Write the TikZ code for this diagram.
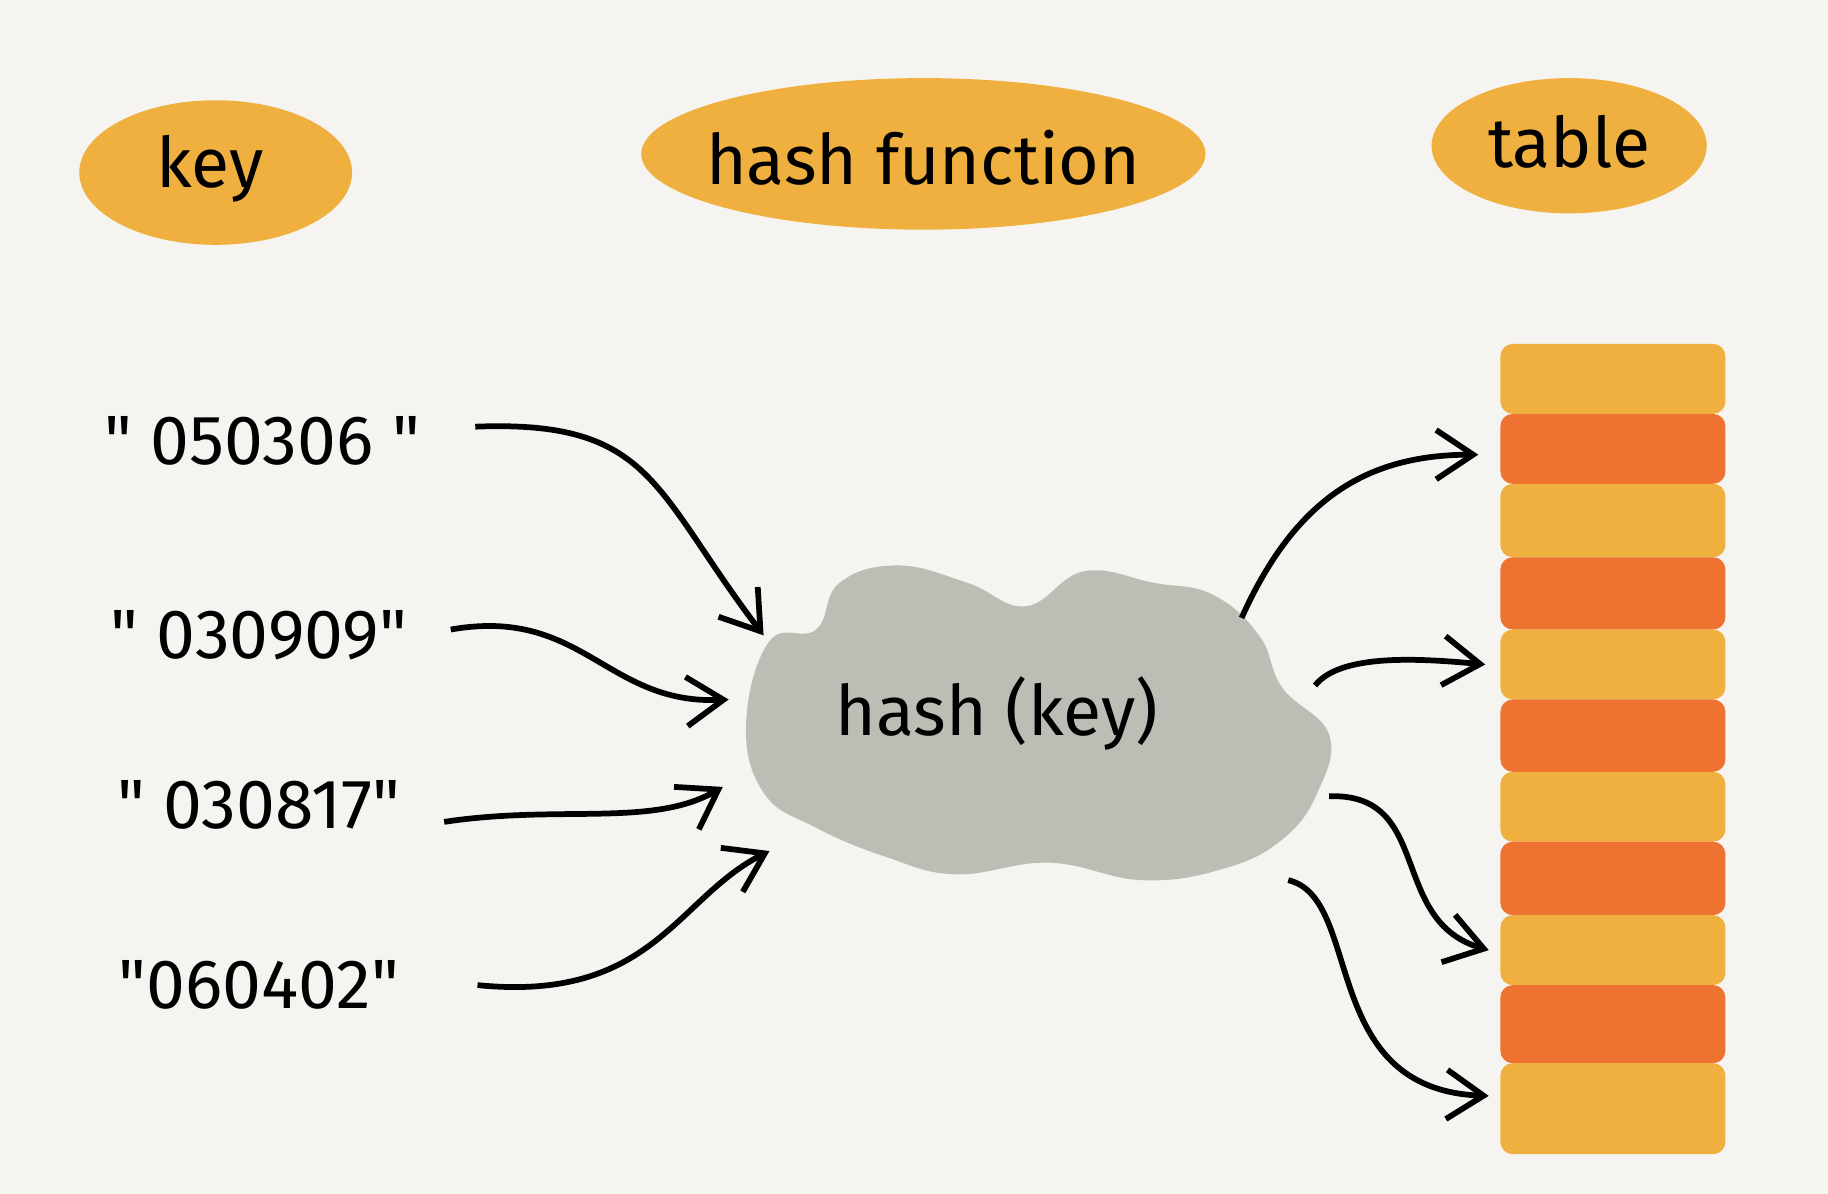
\documentclass[tikz,border=0pt]{standalone}
\usepackage{fontspec}
\setmainfont{Fira Sans}
\begin{document}
\begin{tikzpicture}[x=0.01cm,y=-0.01cm,
  txt/.style={font=\fontsize{17}{20}\selectfont},
  kt/.style={font=\fontsize{17}{20}\selectfont},
  arr/.style={->,line width=1.4pt,>={Straight Barb[length=9pt,width=12pt]}}]
\usetikzlibrary{shapes.geometric,arrows.meta}
\definecolor{bg}{HTML}{F5F4F0}
\definecolor{hdr}{HTML}{EFB03F}
\definecolor{org}{HTML}{EE7230}
\definecolor{cl}{HTML}{BDBCB5}
\fill[bg] (0,0) rectangle (1568,1024);
\useasboundingbox (0,0) rectangle (1568,1024);
% header ellipses
\fill[hdr] (185,148) ellipse [x radius=117,y radius=62];
\fill[hdr] (792,132) ellipse [x radius=242,y radius=65];
\fill[hdr] (1346,125) ellipse [x radius=118,y radius=58];
\node[txt] (hk) at (180,145) {key};
\node[txt] (hf) at (792,135) {hash function};
\node[txt] (ht) at (1346,122) {table};
% table stripes
\foreach \a/\b/\c [count=\i] in {295/355/hdr,355/415/org,415/478/hdr,478/540/org,540/600/hdr,600/662/org,662/722/hdr,722/785/org,785/845/hdr,845/912/org,912/990/hdr}
  \fill[\c,rounded corners=3pt] (1287,\a) rectangle (1480,\b);
\coordinate (t1) at (1268,390);
\coordinate (t2) at (1274,570);
\coordinate (t3) at (1277,815);
\coordinate (t4) at (1277,940);
% cloud
\fill[cl] plot[smooth cycle,tension=0.7] coordinates {(660,550) (700,540) (720,500) (770,485) (830,500) (880,520) (930,490) (990,500) (1040,510) (1080,545) (1100,590) (1140,630) (1130,680) (1100,720) (1050,745) (980,755) (900,740) (820,750) (760,735) (700,710) (655,680) (640,620)};
\node[txt] (hash) at (855,612) {hash (key)};
% keys
\node[kt] (k1) at (225,378) {\textquotedbl\ 050306 \textquotedbl};
\node[kt] (k2) at (222,545) {\textquotedbl\ 030909\textquotedbl};
\node[kt] (k3) at (222,690) {\textquotedbl\ 030817\textquotedbl};
\node[kt] (k4) at (222,845) {\textquotedbl060402\textquotedbl};
\coordinate (c1) at (655,545);
\coordinate (c2) at (625,600);
\coordinate (c3) at (620,675);
\coordinate (c4) at (660,730);
\draw[arr] (k1.east) ++(35,-12) .. controls (560,360) and (560,420) .. (c1);
\draw[arr] (k2.east) ++(25,-5) .. controls (500,520) and (520,605) .. (c2);
\draw[arr] (k3.east) ++(25,15) .. controls (480,690) and (560,710) .. (c3);
\draw[arr] (k4.east) ++(55,0) .. controls (560,860) and (580,770) .. (c4);
\coordinate (o1) at (1065,530);
\coordinate (o2) at (1128,588);
\coordinate (o3) at (1140,683);
\coordinate (o4) at (1105,755);
\draw[arr] (o1) .. controls (1110,430) and (1170,390) .. (t1);
\draw[arr] (o2) .. controls (1150,560) and (1220,565) .. (t2);
\draw[arr] (o3) .. controls (1230,680) and (1190,790) .. (t3);
\draw[arr] (o4) .. controls (1170,770) and (1130,935) .. (t4);
\end{tikzpicture}
\end{document}
